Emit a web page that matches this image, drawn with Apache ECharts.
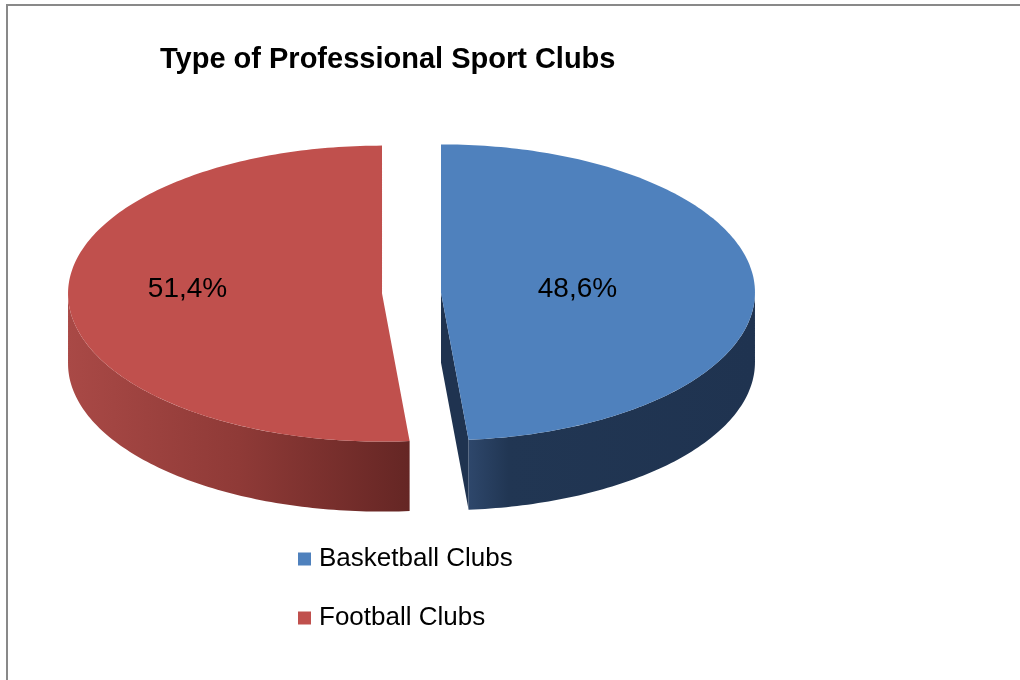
<!DOCTYPE html>
<html>
<head>
<meta charset="utf-8">
<title>Type of Professional Sport Clubs</title>
<script src="https://cdn.jsdelivr.net/npm/echarts@6.0.0/dist/echarts.min.js"></script>
<style>
  html, body { margin: 0; padding: 0; background: #ffffff; }
  #chart { width: 1020px; height: 680px; }
</style>
</head>
<body>
<div id="chart"></div>
<script>
// Share of professional sport clubs by type (percent)
const categories = ['Basketball Clubs', 'Football Clubs'];
const shares = [48.6, 51.4];

// Styling
const FONT = "'Liberation Sans', Arial, sans-serif";
const topColors = ['#4f81bd', '#c0504d'];
const wallStops = [
  [[0, '#2e476b'], [0.14, '#213653'], [1, '#1f3350']],
  [[0, '#a94946'], [0.5, '#8f3a37'], [1, '#652624']]
];
const cutColors = ['#1f3350', '#6a2826'];
const labelReach = [0.435, 0.62];
const labelLift = [0, -8];

// Layout of the tilted pie
const CX = 411.5, CY = 293;   // centre of the top face before exploding
const RX = 314, RY = 148;     // ellipse radii of the top face
const DEPTH = 70;             // thickness of the disc
const EXPLODE = 29.5;         // how far each slice is pulled out

const total = shares.reduce((a, b) => a + b, 0);
const fmt = v => v.toFixed(1).replace('.', ',') + '%';

function sliceRenderer(k) {
  return function (params, api) {
    let before = 0;
    for (let i = 0; i < k; i++) before += shares[i];
    const v = api.value(0);
    const a1 = before / total * Math.PI * 2;
    const a2 = (before + v) / total * Math.PI * 2;
    const mid = (a1 + a2) / 2;
    const ax = CX + EXPLODE * Math.sin(mid);
    const ay = CY - EXPLODE * (RY / RX) * Math.cos(mid);
    const pt = (t, dz) => [ax + RX * Math.sin(t), ay - RY * Math.cos(t) + (dz || 0)];
    const arc = (s, e, dz) => {
      const out = [];
      const n = Math.max(2, Math.ceil((e - s) / (Math.PI / 180)));
      for (let i = 0; i <= n; i++) out.push(pt(s + (e - s) * i / n, dz));
      return out;
    };
    const children = [];

    // flat cut faces that turn toward the viewer
    const faces = [];
    if (Math.sin(a1) < -1e-6) faces.push(a1);
    if (Math.sin(a2) > 1e-6) faces.push(a2);
    faces.forEach(a => {
      children.push({
        type: 'polygon',
        shape: { points: [[ax, ay], pt(a), pt(a, DEPTH), [ax, ay + DEPTH]] },
        style: { fill: cutColors[k] }
      });
    });

    // outer wall on the front half of the disc
    const w1 = Math.max(a1, Math.PI / 2), w2 = Math.min(a2, Math.PI * 1.5);
    if (w2 > w1) {
      const pts = arc(w1, w2, 0).concat(arc(w1, w2, DEPTH).reverse());
      children.push({
        type: 'polygon',
        shape: { points: pts },
        style: {
          fill: new echarts.graphic.LinearGradient(0, 0, 1, 0,
            wallStops[k].map(s => ({ offset: s[0], color: s[1] })))
        }
      });
    }

    // top face
    children.push({
      type: 'polygon',
      shape: { points: [[ax, ay]].concat(arc(a1, a2, 0)) },
      style: { fill: topColors[k] }
    });

    // percentage label
    const lp = [ax + labelReach[k] * RX * Math.sin(mid),
                ay - labelReach[k] * RY * Math.cos(mid) + labelLift[k]];
    children.push({
      type: 'text',
      x: lp[0], y: lp[1],
      style: {
        text: fmt(v), fill: '#000000',
        font: '28px ' + FONT,
        align: 'center', verticalAlign: 'middle'
      }
    });

    return { type: 'group', children: children };
  };
}

const chart = echarts.init(document.getElementById('chart'), null, { renderer: 'canvas' });

chart.setOption({
  animation: false,
  backgroundColor: '#ffffff',
  title: {
    text: 'Type of Professional Sport Clubs',
    left: 160, top: 45, padding: 0,
    textStyle: { fontFamily: FONT, fontSize: 29, fontWeight: 'bold', color: '#000000', lineHeight: 29 }
  },
  legend: {
    orient: 'vertical',
    left: 298, top: 546, padding: 0,
    itemWidth: 13, itemHeight: 13, itemGap: 33,
    icon: 'rect',
    selectedMode: false,
    data: categories.map((c, i) => ({ name: c, itemStyle: { color: topColors[i] } })),
    textStyle: { fontFamily: FONT, fontSize: 26, color: '#000000', lineHeight: 25, padding: [0, 0, 0, 3] }
  },
  graphic: [{
    type: 'rect',
    shape: { x: 7, y: 5, width: 1100, height: 1000 },
    style: { fill: 'none', stroke: '#898989', lineWidth: 2 },
    silent: true
  }],
  series: categories.map((c, k) => ({
    type: 'custom',
    name: c,
    coordinateSystem: 'none',
    silent: true,
    itemStyle: { color: topColors[k] },
    renderItem: sliceRenderer(k),
    data: [shares[k]]
  }))
});
</script>
</body>
</html>
